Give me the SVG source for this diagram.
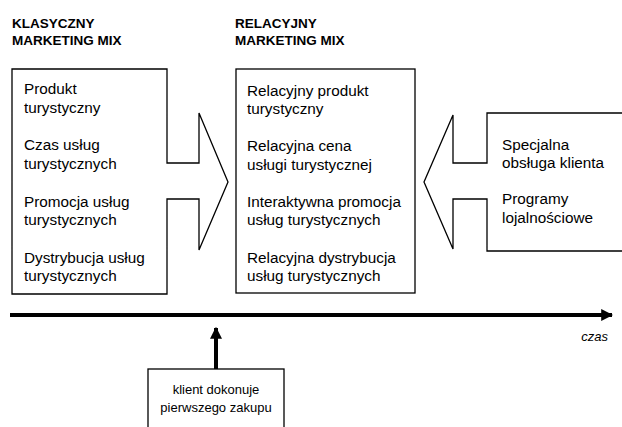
<svg xmlns="http://www.w3.org/2000/svg" width="622" height="427" viewBox="0 0 622 427">
<defs>
<style>
.h{font-family:"Liberation Sans",Arial,sans-serif;font-weight:bold;font-size:13.5px;fill:#000}
.t{font-family:"Liberation Sans",Arial,sans-serif;font-size:15.3px;fill:#000}
.s{font-family:"Liberation Sans",Arial,sans-serif;font-size:13px;fill:#000}
.shape{fill:#fff;stroke:#000;stroke-width:1.3}
.axis{stroke:#000;stroke-width:4;fill:none}
</style>
<marker id="ah" viewBox="0 0 10 10" refX="9" refY="5" markerWidth="3" markerHeight="3" orient="auto" markerUnits="strokeWidth">
<path d="M0,0 L10,5 L0,10 Z" fill="#000"/>
</marker>
</defs>
<rect width="622" height="427" fill="#fff"/>
<g id="heading-classic">
<text class="h" x="12" y="28">KLASYCZNY</text>
<text class="h" x="12" y="45">MARKETING MIX</text>
</g>
<g id="heading-relational">
<text class="h" x="235" y="28">RELACYJNY</text>
<text class="h" x="235" y="45">MARKETING MIX</text>
</g>
<g id="classic-mix">
<path class="shape" d="M12,69 H167 V163 H199 V113 L228,182 L199,250 V199 H167 V294 H12 Z"/>
<text class="t" x="24" y="94">Produkt</text>
<text class="t" x="24" y="113">turystyczny</text>
<text class="t" x="24" y="150">Czas usług</text>
<text class="t" x="24" y="169">turystycznych</text>
<text class="t" x="24" y="207">Promocja usług</text>
<text class="t" x="24" y="225">turystycznych</text>
<text class="t" x="24" y="263">Dystrybucja usług</text>
<text class="t" x="24" y="281">turystycznych</text>
</g>
<g id="relational-mix">
<rect class="shape" x="236" y="69" width="179" height="224"/>
<text class="t" x="247" y="96">Relacyjny produkt</text>
<text class="t" x="247" y="114">turystyczny</text>
<text class="t" x="247" y="151">Relacyjna cena</text>
<text class="t" x="247" y="170">usługi turystycznej</text>
<text class="t" x="247" y="207">Interaktywna promocja</text>
<text class="t" x="247" y="225">usług turystycznych</text>
<text class="t" x="247" y="263">Relacyjna dystrybucja</text>
<text class="t" x="247" y="281">usług turystycznych</text>
</g>
<g id="loyalty">
<path class="shape" d="M623,113 H487 V163 H453 V115 L424,182 L453,249 V199 H487 V251 H623"/>
<text class="t" x="502" y="150">Specjalna</text>
<text class="t" x="502" y="168">obsługa klienta</text>
<text class="t" x="502" y="204">Programy</text>
<text class="t" x="502" y="223">lojalnościowe</text>
</g>
<g id="first-purchase">
<rect class="shape" x="148" y="369" width="136" height="62"/>
<text class="s" x="216" y="394" text-anchor="middle">klient dokonuje</text>
<text class="s" x="216" y="412" text-anchor="middle">pierwszego zakupu</text>
</g>
<g id="connectors">
<line class="axis" x1="10" y1="315" x2="612" y2="315" marker-end="url(#ah)"/>
<line class="axis" x1="216" y1="369" x2="216" y2="328" marker-end="url(#ah)"/>
</g>
<g id="axis-label">
<text class="s" x="608" y="341" text-anchor="end" font-style="italic">czas</text>
</g>
</svg>
